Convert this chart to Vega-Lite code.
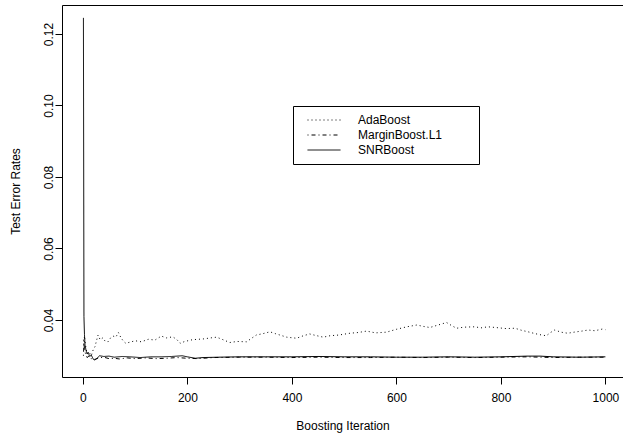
{
  "$schema": "https://vega.github.io/schema/vega-lite/v6.json",
  "width": 561,
  "height": 372,
  "autosize": {"type": "none"},
  "padding": {"left": 62, "top": 5, "right": 0, "bottom": 64},
  "background": "white",
  "config": {
    "font": "Liberation Sans",
    "view": {"stroke": "black", "strokeWidth": 1},
    "axis": {
      "grid": false,
      "domain": false,
      "tickColor": "black",
      "tickSize": 7,
      "labelColor": "black",
      "titleColor": "black",
      "labelFontSize": 12,
      "titleFontSize": 12,
      "titleFontWeight": "normal"
    }
  },
  "data": {
    "values": [
      {"method": "AdaBoost", "iter": 1, "err": 0.0345},
      {"method": "AdaBoost", "iter": 2, "err": 0.0325},
      {"method": "AdaBoost", "iter": 3, "err": 0.0355},
      {"method": "AdaBoost", "iter": 5, "err": 0.033},
      {"method": "AdaBoost", "iter": 8, "err": 0.0305},
      {"method": "AdaBoost", "iter": 12, "err": 0.031},
      {"method": "AdaBoost", "iter": 16, "err": 0.03},
      {"method": "AdaBoost", "iter": 20, "err": 0.0318},
      {"method": "AdaBoost", "iter": 23, "err": 0.0325},
      {"method": "AdaBoost", "iter": 26, "err": 0.0342},
      {"method": "AdaBoost", "iter": 29, "err": 0.0358},
      {"method": "AdaBoost", "iter": 33, "err": 0.0345},
      {"method": "AdaBoost", "iter": 38, "err": 0.035},
      {"method": "AdaBoost", "iter": 43, "err": 0.034},
      {"method": "AdaBoost", "iter": 48, "err": 0.0339},
      {"method": "AdaBoost", "iter": 53, "err": 0.035},
      {"method": "AdaBoost", "iter": 58, "err": 0.0355},
      {"method": "AdaBoost", "iter": 63, "err": 0.0352},
      {"method": "AdaBoost", "iter": 68, "err": 0.0365},
      {"method": "AdaBoost", "iter": 73, "err": 0.035},
      {"method": "AdaBoost", "iter": 78, "err": 0.034},
      {"method": "AdaBoost", "iter": 82, "err": 0.0335},
      {"method": "AdaBoost", "iter": 90, "err": 0.0338},
      {"method": "AdaBoost", "iter": 100, "err": 0.0342},
      {"method": "AdaBoost", "iter": 112, "err": 0.0339},
      {"method": "AdaBoost", "iter": 125, "err": 0.0346},
      {"method": "AdaBoost", "iter": 138, "err": 0.0344},
      {"method": "AdaBoost", "iter": 150, "err": 0.0355},
      {"method": "AdaBoost", "iter": 160, "err": 0.035},
      {"method": "AdaBoost", "iter": 172, "err": 0.0353},
      {"method": "AdaBoost", "iter": 180, "err": 0.0345},
      {"method": "AdaBoost", "iter": 186, "err": 0.0335},
      {"method": "AdaBoost", "iter": 195, "err": 0.034},
      {"method": "AdaBoost", "iter": 210, "err": 0.0345},
      {"method": "AdaBoost", "iter": 230, "err": 0.0347},
      {"method": "AdaBoost", "iter": 245, "err": 0.035},
      {"method": "AdaBoost", "iter": 256, "err": 0.0352},
      {"method": "AdaBoost", "iter": 268, "err": 0.0345},
      {"method": "AdaBoost", "iter": 281, "err": 0.0337},
      {"method": "AdaBoost", "iter": 295, "err": 0.034},
      {"method": "AdaBoost", "iter": 313, "err": 0.0339},
      {"method": "AdaBoost", "iter": 322, "err": 0.0348},
      {"method": "AdaBoost", "iter": 332, "err": 0.0358},
      {"method": "AdaBoost", "iter": 345, "err": 0.0362},
      {"method": "AdaBoost", "iter": 358, "err": 0.0367},
      {"method": "AdaBoost", "iter": 368, "err": 0.0362},
      {"method": "AdaBoost", "iter": 377, "err": 0.0358},
      {"method": "AdaBoost", "iter": 390, "err": 0.0352},
      {"method": "AdaBoost", "iter": 409, "err": 0.0349},
      {"method": "AdaBoost", "iter": 422, "err": 0.0356},
      {"method": "AdaBoost", "iter": 434, "err": 0.0361},
      {"method": "AdaBoost", "iter": 445, "err": 0.0357},
      {"method": "AdaBoost", "iter": 460, "err": 0.0352},
      {"method": "AdaBoost", "iter": 473, "err": 0.0356},
      {"method": "AdaBoost", "iter": 490, "err": 0.0358},
      {"method": "AdaBoost", "iter": 511, "err": 0.0363},
      {"method": "AdaBoost", "iter": 527, "err": 0.0365},
      {"method": "AdaBoost", "iter": 543, "err": 0.0369},
      {"method": "AdaBoost", "iter": 560, "err": 0.0364},
      {"method": "AdaBoost", "iter": 581, "err": 0.0366},
      {"method": "AdaBoost", "iter": 600, "err": 0.0374},
      {"method": "AdaBoost", "iter": 620, "err": 0.0381},
      {"method": "AdaBoost", "iter": 639, "err": 0.0386},
      {"method": "AdaBoost", "iter": 652, "err": 0.0382},
      {"method": "AdaBoost", "iter": 664, "err": 0.0379},
      {"method": "AdaBoost", "iter": 680, "err": 0.0386},
      {"method": "AdaBoost", "iter": 696, "err": 0.0393},
      {"method": "AdaBoost", "iter": 705, "err": 0.0385},
      {"method": "AdaBoost", "iter": 715, "err": 0.0377},
      {"method": "AdaBoost", "iter": 730, "err": 0.038},
      {"method": "AdaBoost", "iter": 750, "err": 0.0381},
      {"method": "AdaBoost", "iter": 762, "err": 0.0378},
      {"method": "AdaBoost", "iter": 775, "err": 0.0381},
      {"method": "AdaBoost", "iter": 790, "err": 0.0379},
      {"method": "AdaBoost", "iter": 810, "err": 0.0376},
      {"method": "AdaBoost", "iter": 827, "err": 0.0377},
      {"method": "AdaBoost", "iter": 840, "err": 0.0371},
      {"method": "AdaBoost", "iter": 852, "err": 0.0367},
      {"method": "AdaBoost", "iter": 865, "err": 0.0362},
      {"method": "AdaBoost", "iter": 878, "err": 0.0358},
      {"method": "AdaBoost", "iter": 887, "err": 0.0356},
      {"method": "AdaBoost", "iter": 895, "err": 0.0365},
      {"method": "AdaBoost", "iter": 903, "err": 0.0372},
      {"method": "AdaBoost", "iter": 915, "err": 0.0366},
      {"method": "AdaBoost", "iter": 928, "err": 0.0363},
      {"method": "AdaBoost", "iter": 940, "err": 0.0366},
      {"method": "AdaBoost", "iter": 955, "err": 0.0369},
      {"method": "AdaBoost", "iter": 967, "err": 0.0372},
      {"method": "AdaBoost", "iter": 980, "err": 0.037},
      {"method": "AdaBoost", "iter": 995, "err": 0.0375},
      {"method": "AdaBoost", "iter": 1000, "err": 0.0373},
      {"method": "MarginBoost.L1", "iter": 1, "err": 0.03},
      {"method": "MarginBoost.L1", "iter": 2, "err": 0.0335},
      {"method": "MarginBoost.L1", "iter": 3, "err": 0.032},
      {"method": "MarginBoost.L1", "iter": 5, "err": 0.0305},
      {"method": "MarginBoost.L1", "iter": 8, "err": 0.0295},
      {"method": "MarginBoost.L1", "iter": 12, "err": 0.03},
      {"method": "MarginBoost.L1", "iter": 16, "err": 0.0292},
      {"method": "MarginBoost.L1", "iter": 20, "err": 0.0289},
      {"method": "MarginBoost.L1", "iter": 25, "err": 0.0291},
      {"method": "MarginBoost.L1", "iter": 30, "err": 0.0294},
      {"method": "MarginBoost.L1", "iter": 40, "err": 0.0296},
      {"method": "MarginBoost.L1", "iter": 50, "err": 0.0292},
      {"method": "MarginBoost.L1", "iter": 60, "err": 0.0293},
      {"method": "MarginBoost.L1", "iter": 70, "err": 0.0291},
      {"method": "MarginBoost.L1", "iter": 85, "err": 0.0294},
      {"method": "MarginBoost.L1", "iter": 100, "err": 0.0292},
      {"method": "MarginBoost.L1", "iter": 120, "err": 0.0294},
      {"method": "MarginBoost.L1", "iter": 140, "err": 0.0292},
      {"method": "MarginBoost.L1", "iter": 160, "err": 0.0293},
      {"method": "MarginBoost.L1", "iter": 180, "err": 0.0295},
      {"method": "MarginBoost.L1", "iter": 200, "err": 0.0293},
      {"method": "MarginBoost.L1", "iter": 220, "err": 0.0292},
      {"method": "MarginBoost.L1", "iter": 250, "err": 0.0295},
      {"method": "MarginBoost.L1", "iter": 300, "err": 0.0296},
      {"method": "MarginBoost.L1", "iter": 350, "err": 0.0296},
      {"method": "MarginBoost.L1", "iter": 400, "err": 0.0295},
      {"method": "MarginBoost.L1", "iter": 450, "err": 0.0296},
      {"method": "MarginBoost.L1", "iter": 500, "err": 0.0295},
      {"method": "MarginBoost.L1", "iter": 550, "err": 0.0295},
      {"method": "MarginBoost.L1", "iter": 600, "err": 0.0296},
      {"method": "MarginBoost.L1", "iter": 650, "err": 0.0295},
      {"method": "MarginBoost.L1", "iter": 700, "err": 0.0296},
      {"method": "MarginBoost.L1", "iter": 750, "err": 0.0295},
      {"method": "MarginBoost.L1", "iter": 800, "err": 0.0296},
      {"method": "MarginBoost.L1", "iter": 850, "err": 0.0297},
      {"method": "MarginBoost.L1", "iter": 900, "err": 0.0295},
      {"method": "MarginBoost.L1", "iter": 950, "err": 0.0296},
      {"method": "MarginBoost.L1", "iter": 1000, "err": 0.0296},
      {"method": "SNRBoost", "iter": 1, "err": 0.1245},
      {"method": "SNRBoost", "iter": 2, "err": 0.041},
      {"method": "SNRBoost", "iter": 3, "err": 0.036},
      {"method": "SNRBoost", "iter": 4, "err": 0.033},
      {"method": "SNRBoost", "iter": 6, "err": 0.0315},
      {"method": "SNRBoost", "iter": 8, "err": 0.0305},
      {"method": "SNRBoost", "iter": 10, "err": 0.031},
      {"method": "SNRBoost", "iter": 13, "err": 0.0298},
      {"method": "SNRBoost", "iter": 16, "err": 0.0302},
      {"method": "SNRBoost", "iter": 20, "err": 0.029},
      {"method": "SNRBoost", "iter": 23, "err": 0.0288},
      {"method": "SNRBoost", "iter": 27, "err": 0.0293},
      {"method": "SNRBoost", "iter": 32, "err": 0.03},
      {"method": "SNRBoost", "iter": 40, "err": 0.0298},
      {"method": "SNRBoost", "iter": 50, "err": 0.0299},
      {"method": "SNRBoost", "iter": 60, "err": 0.0296},
      {"method": "SNRBoost", "iter": 75, "err": 0.0298},
      {"method": "SNRBoost", "iter": 90, "err": 0.0297},
      {"method": "SNRBoost", "iter": 110, "err": 0.0295},
      {"method": "SNRBoost", "iter": 130, "err": 0.0297},
      {"method": "SNRBoost", "iter": 150, "err": 0.0297},
      {"method": "SNRBoost", "iter": 170, "err": 0.0298},
      {"method": "SNRBoost", "iter": 190, "err": 0.03},
      {"method": "SNRBoost", "iter": 200, "err": 0.0297},
      {"method": "SNRBoost", "iter": 215, "err": 0.0293},
      {"method": "SNRBoost", "iter": 230, "err": 0.0295},
      {"method": "SNRBoost", "iter": 260, "err": 0.0296},
      {"method": "SNRBoost", "iter": 300, "err": 0.0297},
      {"method": "SNRBoost", "iter": 350, "err": 0.0297},
      {"method": "SNRBoost", "iter": 400, "err": 0.0297},
      {"method": "SNRBoost", "iter": 450, "err": 0.0298},
      {"method": "SNRBoost", "iter": 500, "err": 0.0297},
      {"method": "SNRBoost", "iter": 550, "err": 0.0297},
      {"method": "SNRBoost", "iter": 600, "err": 0.0296},
      {"method": "SNRBoost", "iter": 650, "err": 0.0296},
      {"method": "SNRBoost", "iter": 700, "err": 0.0297},
      {"method": "SNRBoost", "iter": 750, "err": 0.0296},
      {"method": "SNRBoost", "iter": 800, "err": 0.0297},
      {"method": "SNRBoost", "iter": 850, "err": 0.0299},
      {"method": "SNRBoost", "iter": 875, "err": 0.0299},
      {"method": "SNRBoost", "iter": 900, "err": 0.0297},
      {"method": "SNRBoost", "iter": 950, "err": 0.0296},
      {"method": "SNRBoost", "iter": 1000, "err": 0.0297}
    ]
  },
  "mark": {"type": "line", "color": "black", "strokeWidth": 1},
  "encoding": {
    "x": {
      "field": "iter",
      "type": "quantitative",
      "scale": {"domain": [-40, 1033.7], "nice": false, "zero": false},
      "axis": {"values": [0, 200, 400, 600, 800, 1000], "format": "d", "labelPadding": 8, "titlePadding": 17},
      "title": "Boosting Iteration"
    },
    "y": {
      "field": "err",
      "type": "quantitative",
      "scale": {"domain": [0.02406, 0.1281], "nice": false, "zero": false},
      "axis": {
        "values": [0.04, 0.06, 0.08, 0.1, 0.12],
        "format": ".2f",
        "labelAngle": -90,
        "labelAlign": "center",
        "labelBaseline": "bottom",
        "labelPadding": 0,
        "titlePadding": 20
      },
      "title": "Test Error Rates"
    },
    "strokeDash": {
      "field": "method",
      "type": "nominal",
      "scale": {
        "domain": ["AdaBoost", "MarginBoost.L1", "SNRBoost"],
        "range": [[1, 3], [1, 3, 4, 3], [1, 0]]
      },
      "legend": {
        "title": "M",
        "titleOrient": "right",
        "titleColor": "white",
        "titleFontSize": 12,
        "titlePadding": 20,
        "orient": "none",
        "legendX": 231,
        "legendY": 101,
        "strokeColor": "black",
        "fillColor": "white",
        "padding": 6.5,
        "symbolType": "stroke",
        "symbolSize": 1089,
        "symbolStrokeColor": "black",
        "symbolStrokeWidth": 1,
        "symbolOffset": 7.5,
        "clipHeight": 15,
        "rowPadding": 0,
        "labelOffset": 17,
        "labelFontSize": 12,
        "labelColor": "black"
      }
    }
  }
}
